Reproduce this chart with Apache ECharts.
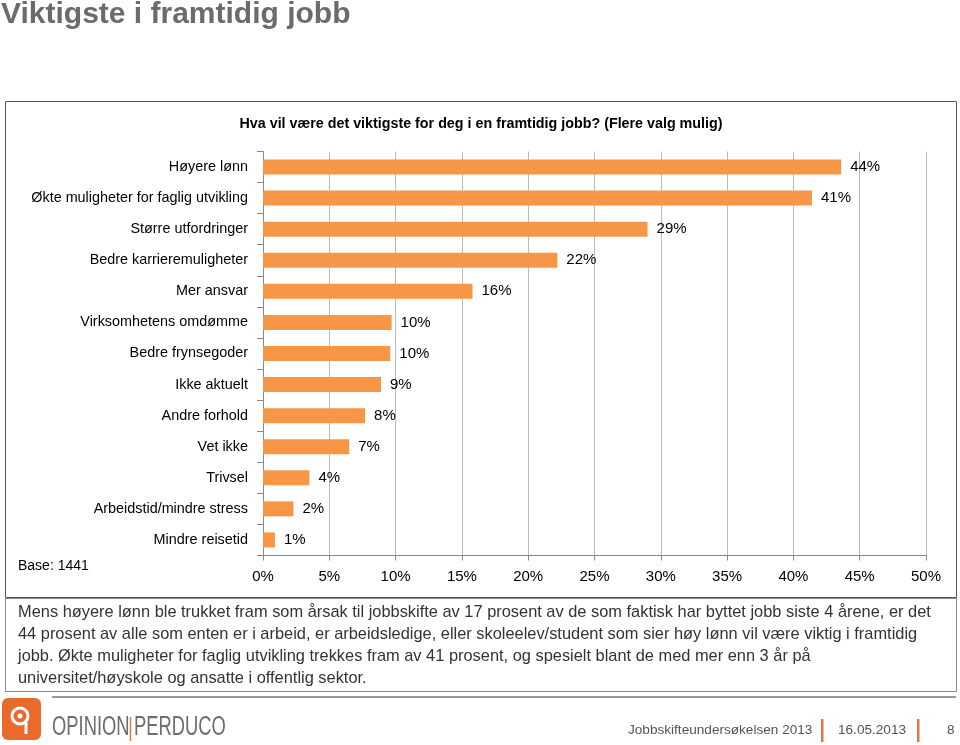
<!DOCTYPE html>
<html><head><meta charset="utf-8">
<script src="https://cdn.jsdelivr.net/npm/echarts@6/dist/echarts.min.js"></script>
<style>html,body{margin:0;padding:0;background:#fff}#c{width:960px;height:745px}</style>
</head><body><div id="c"></div>
<script>
const categories = ['Høyere lønn','Økte muligheter for faglig utvikling','Større utfordringer','Bedre karrieremuligheter','Mer ansvar','Virksomhetens omdømme','Bedre frynsegoder','Ikke aktuelt','Andre forhold','Vet ikke','Trivsel','Arbeidstid/mindre stress','Mindre reisetid'];
const values = [43.6, 41.4, 29.0, 22.2, 15.8, 9.7, 9.6, 8.9, 7.7, 6.5, 3.5, 2.3, 0.9];
const labels = ['44%','41%','29%','22%','16%','10%','10%','9%','8%','7%','4%','2%','1%'];
const xTicks = [0,5,10,15,20,25,30,35,40,45,50];
const paragraph = [
 'Mens høyere lønn ble trukket fram som årsak til jobbskifte av 17 prosent av de som faktisk har byttet jobb siste 4 årene, er det',
 '44 prosent av alle som enten er i arbeid, er arbeidsledige, eller skoleelev/student som sier høy lønn vil være viktig i framtidig',
 'jobb. Økte muligheter for faglig utvikling trekkes fram av 41 prosent, og spesielt blant de med mer enn 3 år på',
 'universitet/høyskole og ansatte i offentlig sektor.'
];
const F = '"Liberation Sans", Arial, sans-serif';
const chart = echarts.init(document.getElementById('c'), null, {renderer:'canvas'});
const graphics = [
  {type:'rect', shape:{x:5.5,y:101.5,width:951,height:496}, style:{fill:'none',stroke:'#555',lineWidth:1}, z:-1},
  {type:'rect', shape:{x:5.5,y:598.5,width:951,height:93}, style:{fill:'none',stroke:'#888',lineWidth:1}, z:-1},
  {type:'text', left:18, top:559, style:{text:'Base: 1441', font:'14px '+F, fill:'#000'}},
  {type:'line', shape:{x1:52,y1:697,x2:956,y2:697}, style:{stroke:'#999',lineWidth:2}},
  {type:'rect', shape:{x:2,y:698,width:39,height:42,r:6}, style:{fill:'#ea6a2c'}},
  {type:'circle', shape:{cx:20,cy:716,r:8}, style:{fill:'none',stroke:'#fff',lineWidth:3}},
  {type:'circle', shape:{cx:20,cy:716,r:2.5}, style:{fill:'#fff'}},
  {type:'line', shape:{x1:26,y1:722,x2:26,y2:734}, style:{stroke:'#fff',lineWidth:3}},
  {type:'text', x:52, y:714, scaleX:0.68, style:{text:'OPINION', font:'27px '+F, fill:'#6d6d6d'}},
  {type:'line', shape:{x1:130.5,y1:717,x2:130.5,y2:741}, style:{stroke:'#e07b39',lineWidth:1.5}},
  {type:'text', x:134, y:714, scaleX:0.68, style:{text:'PERDUCO', font:'27px '+F, fill:'#6d6d6d'}},
  {type:'text', left:628, top:723, style:{text:'Jobbskifteundersøkelsen 2013', font:'13.6px '+F, fill:'#555'}},
  {type:'rect', shape:{x:821,y:719,width:2.5,height:23}, style:{fill:'#e07b39'}},
  {type:'text', left:838, top:723, style:{text:'16.05.2013', font:'13.6px '+F, fill:'#555'}},
  {type:'rect', shape:{x:917,y:719,width:2.5,height:23}, style:{fill:'#e07b39'}},
  {type:'text', left:947, top:723, style:{text:'8', font:'13.6px '+F, fill:'#555'}}
];
paragraph.forEach((t,i)=>graphics.push({type:'text', left:18, top:604+i*22, style:{text:t, font:'16.4px '+F, fill:'#333'}}));
chart.setOption({
  animation:false,
  title:[
    {text:'Viktigste i framtidig jobb', left:0, top:0, textStyle:{fontFamily:F, fontWeight:'bold', fontSize:30, color:'#6b6b6b'}, padding:[0,1]},
    {text:'Hva vil være det viktigste for deg i en framtidig jobb? (Flere valg mulig)', left:481, textAlign:'center', top:117, textStyle:{fontFamily:F, fontWeight:'bold', fontSize:14.3, color:'#000'}, padding:0}
  ],
  grid:{left:263, right:34, top:151.5, bottom:189.5, containLabel:false},
  xAxis:{type:'value', min:0, max:50, interval:5,
    axisLine:{show:true, lineStyle:{color:'#888'}},
    axisTick:{show:true, length:5, lineStyle:{color:'#888'}},
    splitLine:{show:true, lineStyle:{color:'#bbb'}},
    axisLabel:{formatter:v=>xTicks.includes(v)?v+'%':'', fontFamily:F, fontSize:15, color:'#000', margin:14}
  },
  yAxis:{type:'category', data:categories, inverse:true,
    axisLine:{show:true, lineStyle:{color:'#888'}},
    axisTick:{show:true, length:6, lineStyle:{color:'#888'}},
    axisLabel:{fontFamily:F, fontSize:14.4, color:'#000', margin:15}
  },
  series:[{type:'bar', data:values, barWidth:15, itemStyle:{color:'#F79646'},
    label:{show:true, position:'right', distance:9, formatter:p=>labels[p.dataIndex], fontFamily:F, fontSize:15, color:'#000'}
  }],
  graphic:graphics
});
</script></body></html>
